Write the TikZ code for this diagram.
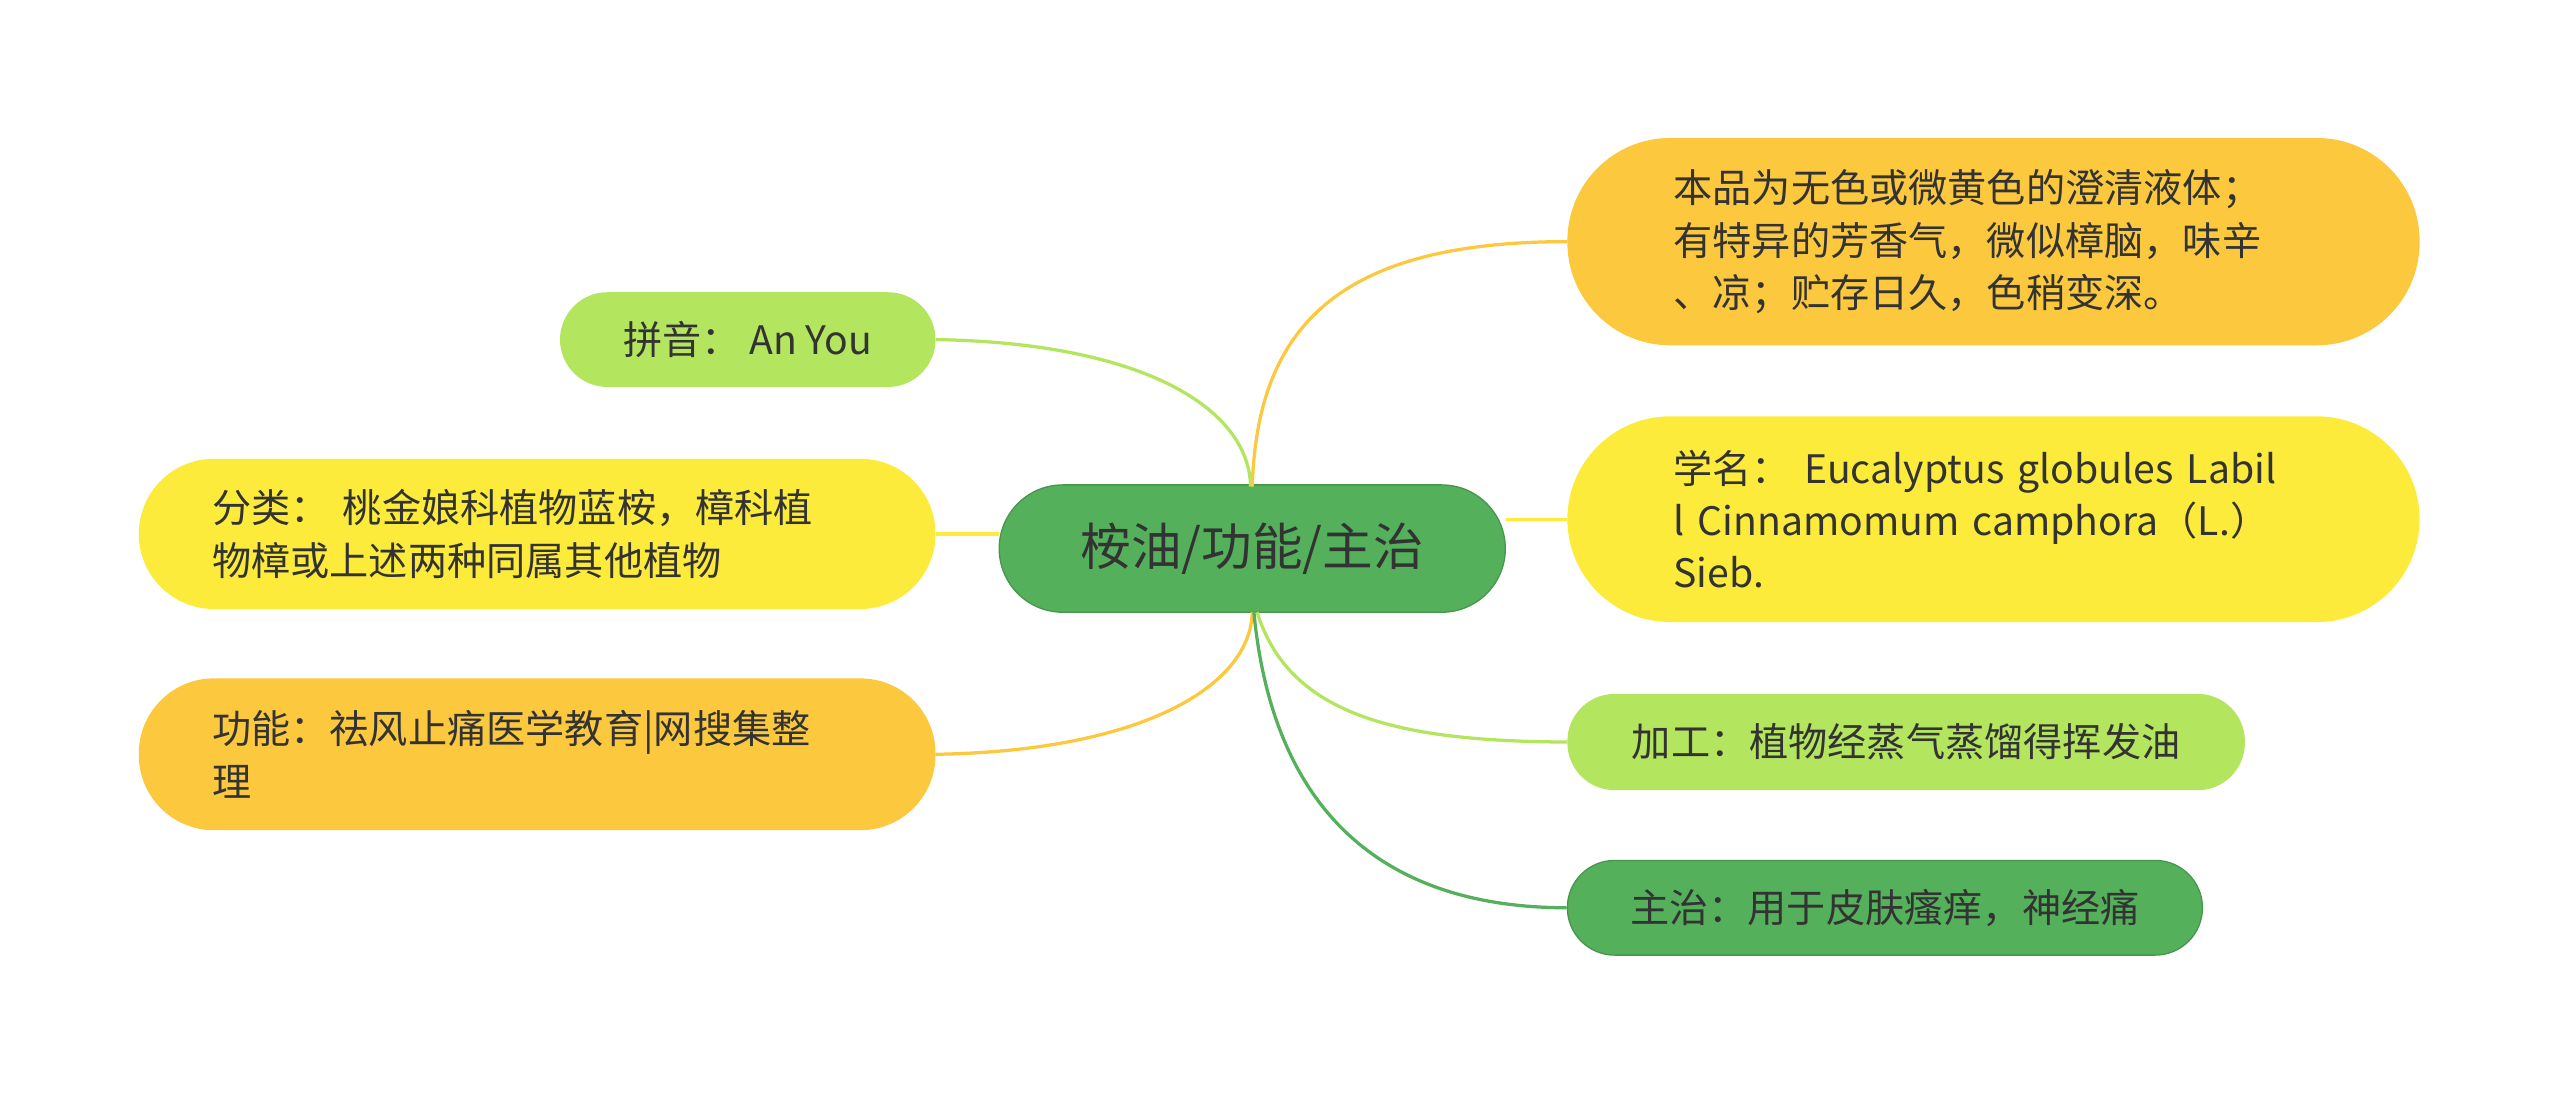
\documentclass[tikz,border=0pt]{standalone}
\usepackage{fontspec}
\setmainfont{Noto Sans CJK SC}
\definecolor{cgreen}{HTML}{55B05C}
\definecolor{clight}{HTML}{B3E55E}
\definecolor{cyellow}{HTML}{FCEB3A}
\definecolor{corange}{HTML}{FCC93E}
\definecolor{ctext}{HTML}{333333}
\tikzset{
  box/.style={rectangle, inner sep=0pt, text=ctext, font=\fontsize{24}{32}\selectfont, align=left},
  conn/.style={line width=2pt}
}
\begin{document}
\begin{tikzpicture}[x=1pt,y=-1pt]
\useasboundingbox (0,0) rectangle (1568,671);
\node[box, fill=cgreen, draw=cgreen!85!black, line width=0.8pt, minimum width=310, minimum height=78, rounded corners=39, font=\fontsize{31}{36}\selectfont, align=center] (c) at (767,336) {桉油/功能/主治};
\node[box, fill=clight, minimum width=230, minimum height=58, rounded corners=29, align=center] (py) at (458,208) {拼音：\ An You};
\node[box, fill=cyellow, minimum width=488, minimum height=92, rounded corners=46, text width=398] (fl) at (329,327) {分类：\ 桃金娘科植物蓝桉，樟科植\\物樟或上述两种同属其他植物};
\node[box, fill=corange, minimum width=488, minimum height=93, rounded corners=46, text width=398] (gn) at (329,462) {功能：祛风止痛医学教育|网搜集整\\理};
\node[box, fill=corange, minimum width=522, minimum height=127, rounded corners=63, text width=392] (r1) at (1221,148) {本品为无色或微黄色的澄清液体；\\有特异的芳香气，微似樟脑，味辛\\、凉；贮存日久，色稍变深。};
\node[box, fill=cyellow, minimum width=522, minimum height=126, rounded corners=63, text width=392] (xm) at (1221,318) {学名：\ Eucalyptus globules Labil\\l Cinnamomum camphora（L.）\\Sieb.};
\node[box, fill=clight, minimum width=415, minimum height=59, rounded corners=29, align=center] (jg) at (1167.5,454.5) {加工：植物经蒸气蒸馏得挥发油};
\node[box, fill=cgreen, draw=cgreen!85!black, line width=0.8pt, minimum width=389, minimum height=58, rounded corners=29, align=center] (zz) at (1154.5,556) {主治：用于皮肤瘙痒，神经痛};
\draw[conn, clight] (py.east) .. controls (700,210) and (765,250) .. (766,298);
\draw[conn, cyellow] (fl.east) -- (c.west |- fl.east);
\draw[conn, corange] (gn.east) .. controls (700,460) and (766,420) .. (767,375);
\draw[conn, corange] (767,298) .. controls (770,200) and (820,148) .. (r1.west);
\draw[conn, cyellow] (c.east |- xm.west) -- (xm.west);
\draw[conn, clight] (770,375) .. controls (790,440) and (860,454) .. (jg.west);
\draw[conn, cgreen] (768,375) .. controls (780,500) and (850,556) .. (zz.west);
\end{tikzpicture}
\end{document}
